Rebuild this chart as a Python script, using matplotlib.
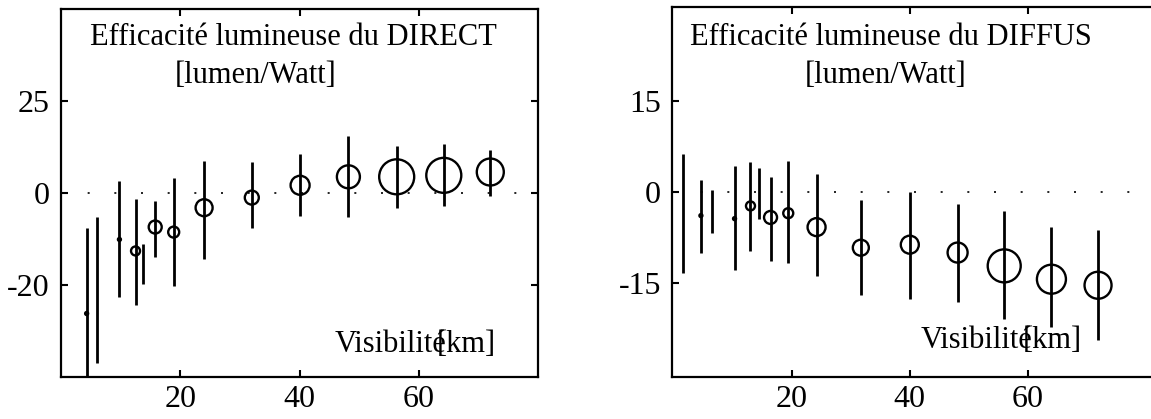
import numpy as np
import matplotlib
matplotlib.use("Agg")
import matplotlib.pyplot as plt

plt.rcParams['font.family'] = ['Liberation Serif', 'DejaVu Serif']

# ---- DIRECT : efficacité lumineuse vs visibilité ----
direct_vis = [4.3, 6.0, 9.8, 12.5, 13.8, 15.8, 18.9, 24.0, 32.0, 40.1, 48.2, 56.3, 64.2, 72.0]
direct_mean = [-26.2, -21.2, -10.1, -12.6, -15.4, -7.4, -8.5, -3.2, -1.0, 2.1, 4.4, 4.4, 4.8, 5.7]
direct_hi = [-7.7, -5.3, 3.2, -1.4, -11.0, -1.8, 4.2, 8.7, 8.3, 10.5, 15.5, 12.7, 13.3, 11.6]
direct_lo = [-45.0, -37.0, -22.6, -24.3, -19.8, -14.0, -20.3, -14.3, -7.7, -5.1, -5.2, -3.2, -2.8, -0.7]
direct_weight = [3, 0, 3, 9, 0, 13, 11, 17, 14, 19, 23, 35, 35, 27]

# ---- DIFFUS : efficacité lumineuse vs visibilité ----
diffus_vis = [1.6, 4.6, 6.5, 10.3, 13.0, 14.4, 16.4, 19.4, 24.2, 31.7, 40.0, 48.1, 56.0, 64.0, 71.9]
diffus_mean = [-3.6, -3.9, -3.2, -4.4, -2.3, -0.3, -4.2, -3.5, -5.8, -9.2, -8.7, -10.0, -12.2, -14.4, -15.4]
diffus_hi = [6.3, 2.0, 0.3, 4.3, 5.0, 4.0, 2.4, 5.2, 3.0, -1.3, 0.0, -2.0, -3.2, -5.7, -6.2]
diffus_lo = [-13.4, -10.0, -6.8, -12.8, -9.8, -4.5, -11.4, -11.7, -13.9, -17.0, -17.6, -18.2, -21.0, -22.3, -24.5]
diffus_weight = [0, 3, 0, 3, 9, 0, 13, 10, 18, 16, 18, 20, 33, 29, 27]

direct_yticks = [25, 0, -20]
diffus_yticks = [15, 0, -15]
x_ticks = [20, 40, 60]

W, H = 1151, 419
DPI = 100
fig = plt.figure(figsize=(W / DPI, H / DPI), dpi=DPI)


def rect(x0, y0, x1, y1):
    """Axes rectangle from pixel corners (top-left origin)."""
    return [x0 / W, 1 - y1 / H, (x1 - x0) / W, (y1 - y0) / H]


ax1 = fig.add_axes(rect(61, 9, 538, 377))
ax2 = fig.add_axes(rect(672, 7.3, 1160, 376.7))

# the DIRECT axis is stretched below zero
def fwd(y):
    y = np.asarray(y, dtype=float)
    return np.where(y < 0, 1.25 * y, y)


def inv(t):
    t = np.asarray(t, dtype=float)
    return np.where(t < 0, t / 1.25, t)


ax1.set_yscale('function', functions=(fwd, inv))


def draw(ax, vis, mean, lo, hi, weight):
    mean = np.asarray(mean)
    yerr = [mean - np.asarray(lo), np.asarray(hi) - mean]
    ax.errorbar(vis, mean, yerr=yerr, fmt='none', ecolor='black',
                elinewidth=2.0, capsize=0, zorder=3)
    sizes = (np.asarray(weight) * 0.72) ** 2
    ax.scatter(vis, mean, s=sizes, facecolors='none', edgecolors='black',
               linewidths=1.7, zorder=4)
    ax.plot([0, 85], [0, 0], color='black', lw=1.2,
            linestyle=(0, (1.2, 14.8)), zorder=2)


draw(ax1, direct_vis, direct_mean, direct_lo, direct_hi, direct_weight)
draw(ax2, diffus_vis, diffus_mean, diffus_lo, diffus_hi, diffus_weight)

ax1.set_xlim(0, 80)
ax1.set_ylim(-40, 50)
ax2.set_xlim(-0.3, 82.4)
ax2.set_ylim(-30.5, 30.5)

for ax, yt in ((ax1, direct_yticks), (ax2, diffus_yticks)):
    ax.set_xticks(x_ticks)
    ax.set_yticks(yt)
    ax.set_yticklabels([str(v) for v in yt])
    ax.minorticks_off()
    ax.tick_params(direction='in', length=5, width=1.5, labelsize=23,
                   top=True, right=True, pad=8)
    ax.tick_params(axis='x', pad=6)
    for s in ax.spines.values():
        s.set_linewidth(1.6)
ax2.spines['right'].set_visible(False)


def ftext(x, y, s, ha='center'):
    fig.text(x / W, 1 - y / H, s, ha=ha, va='baseline', fontsize=22)


ftext(293, 45, "Efficacité lumineuse du DIRECT")
ftext(256, 83, "[lumen/Watt]")
ftext(446, 352, "Visibilité", ha='right')
ftext(437, 352, "[km]", ha='left')

ftext(891, 45, "Efficacité lumineuse du DIFFUS")
ftext(886, 83, "[lumen/Watt]")
ftext(1032, 348, "Visibilité", ha='right')
ftext(1023, 348, "[km]", ha='left')

fig.savefig("out.png", dpi=DPI)
